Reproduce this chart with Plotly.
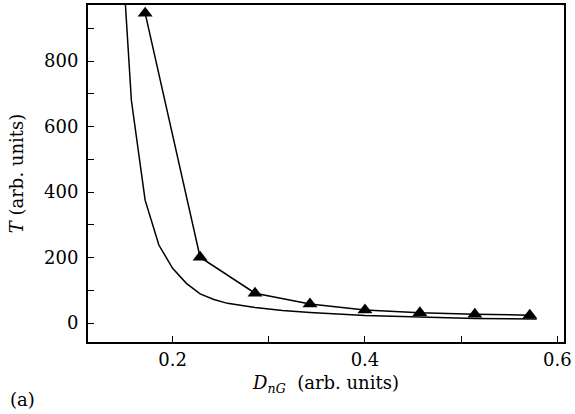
import plotly.graph_objects as go

# Triangle series
d_tri = [1.2/7, 1.6/7, 2.0/7, 2.4/7, 2.8/7, 3.2/7, 3.6/7, 4.0/7]
t_tri = [946, 201, 91, 58, 40, 31, 27, 24]

# Lower curve
d_low = [0.1429, 0.1571, 0.1714, 0.1857, 0.2, 0.2143, 0.2286, 0.2429, 0.2571,
         0.2857, 0.3143, 0.3429, 0.4, 0.4571, 0.5143, 0.5786]
t_low = [1350, 680, 375, 238, 167, 121, 89, 72, 60,
         47, 38, 32, 23, 18, 14, 12]

FONT = "DejaVu Serif"
FS = 18

fig = go.Figure()
fig.add_trace(go.Scatter(x=d_low, y=t_low, mode="lines",
                         line=dict(color="black", width=1.5), showlegend=False))
fig.add_trace(go.Scatter(x=d_tri, y=t_tri, mode="lines+markers",
                         line=dict(color="black", width=1.5),
                         marker=dict(symbol="triangle-up", size=13, color="black"),
                         showlegend=False, cliponaxis=False))

fig.update_layout(
    width=575, height=414,
    margin=dict(l=88, r=11, t=5, b=72, autoexpand=False),
    plot_bgcolor="white", paper_bgcolor="white",
    font=dict(family=FONT, size=FS, color="black"),
    xaxis=dict(range=[0.112, 0.607], tick0=0.2, dtick=0.2, automargin=False,
               showline=True, linecolor="black", linewidth=2, mirror=True,
               ticks="inside", ticklen=6, tickwidth=1, tickcolor="black",
               showgrid=False, zeroline=False,
               tickfont=dict(family=FONT, size=FS, color="black"),
               minor=dict(dtick=0.1, tick0=0.2, ticks="inside", ticklen=6, tickcolor="black"),
               title=dict(text="<i>D</i><sub><i>nG</i></sub>  (arb. units)",
                          font=dict(family=FONT, size=FS, color="black"), standoff=8)),
    yaxis=dict(range=[-58, 971], tick0=0, dtick=200, automargin=False,
               showline=True, linecolor="black", linewidth=2, mirror=True,
               ticks="inside", ticklen=6, tickwidth=1, tickcolor="black",
               showgrid=False, zeroline=False, ticklabelstandoff=4,
               tickfont=dict(family=FONT, size=FS, color="black"),
               minor=dict(dtick=100, tick0=0, ticks="inside", ticklen=6, tickcolor="black"),
               title=dict(text="<i>T</i> (arb. units)",
                          font=dict(family=FONT, size=FS, color="black"), standoff=16)),
)

fig.add_annotation(text="(a)", xref="paper", yref="paper", x=-0.168, y=-0.172,
                   xanchor="left", yanchor="middle", showarrow=False,
                   font=dict(family=FONT, size=FS, color="black"))

fig.write_html("out.html", config={"displayModeBar": False},
               post_script="document.body.style.margin='0';")
